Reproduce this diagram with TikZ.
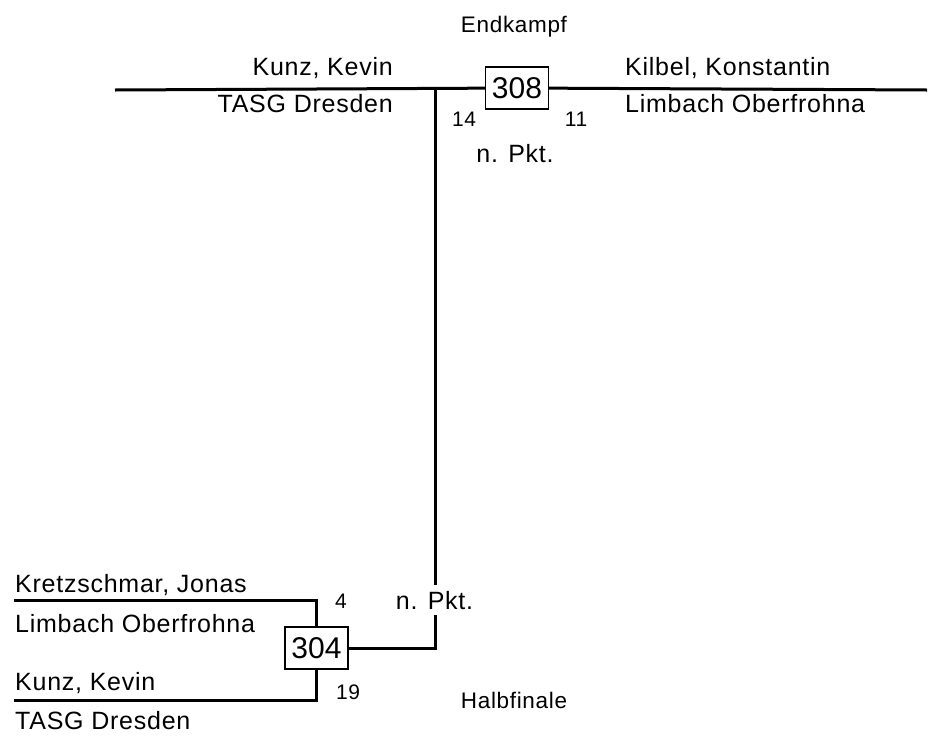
\documentclass[tikz,border=0pt]{standalone}
\usepackage{fontspec}
\setmainfont{Liberation Sans}[LetterSpace=3]
\newfontfamily\boxfont{Liberation Sans}

\tikzset{
    bracket/.style={line width=3pt},
    matchbox/.style={draw,line width=1.1pt,fill=white,minimum width=63pt,
        minimum height=42pt,inner sep=0pt,font=\boxfont\fontsize{30}{33}\selectfont},
    entry/.style={inner sep=0pt,font=\fontsize{25}{28}\selectfont},
    score/.style={inner sep=0pt,font=\fontsize{21}{24}\selectfont},
    roundname/.style={inner sep=0pt,font=\fontsize{22.5}{25}\selectfont},
}

\begin{document}
\begin{tikzpicture}[x=1pt,y=-1pt]
    \useasboundingbox (0,0) rectangle (930,737);

    % Round titles
    \node at (514, 32) [roundname,anchor=base] (final) {Endkampf};
    \node at (514, 708) [roundname,anchor=base] (semi) {Halbfinale};

    % Match boxes
    \node at (517, 88) [matchbox] (m308) {308};
    \node at (316.5, 648) [matchbox] (m304) {304};

    % Bracket ends
    \coordinate (topleft) at (115, 90);
    \coordinate (topright) at (927, 90);
    \coordinate (join) at (435.5, 90);
    \coordinate (semiA) at (14, 600);
    \coordinate (semiB) at (14, 700);

    % Bracket lines
    \draw[bracket] (topleft) -- (m308);
    \draw[bracket] (m308) -- (topright);
    \draw[bracket] (join) |- (m304);
    \draw[bracket] (semiA) -| (m304);
    \draw[bracket] (semiB) -| (m304);

    % Players of the final
    \node at (393, 75) [entry,anchor=base east] (fin1) {Kunz, Kevin};
    \node at (393, 112) [entry,anchor=base east] (fin1club) {TASG Dresden};
    \node at (625, 75) [entry,anchor=base west] (fin2) {Kilbel, Konstantin};
    \node at (625, 112) [entry,anchor=base west] (fin2club) {Limbach Oberfrohna};
    \node at (464, 126) [score,anchor=base] (s14) {14};
    \node at (576, 126) [score,anchor=base] (s11) {11};
    \node at (515, 162) [entry,anchor=base] (np308) {n. Pkt.};

    % Players of the semi-final
    \node at (15, 592) [entry,anchor=base west] (semi1) {Kretzschmar, Jonas};
    \node at (15, 632) [entry,anchor=base west] (semi1club) {Limbach Oberfrohna};
    \node at (15, 690) [entry,anchor=base west] (semi2) {Kunz, Kevin};
    \node at (15, 729) [entry,anchor=base west] (semi2club) {TASG Dresden};
    \node at (341, 608) [score,anchor=base] (s4) {4};
    \node at (348, 699) [score,anchor=base] (s19) {19};
    \node at (434.5, 609) [entry,anchor=base,fill=white,inner sep=6pt] (np304) {n. Pkt.};
\end{tikzpicture}
\end{document}
